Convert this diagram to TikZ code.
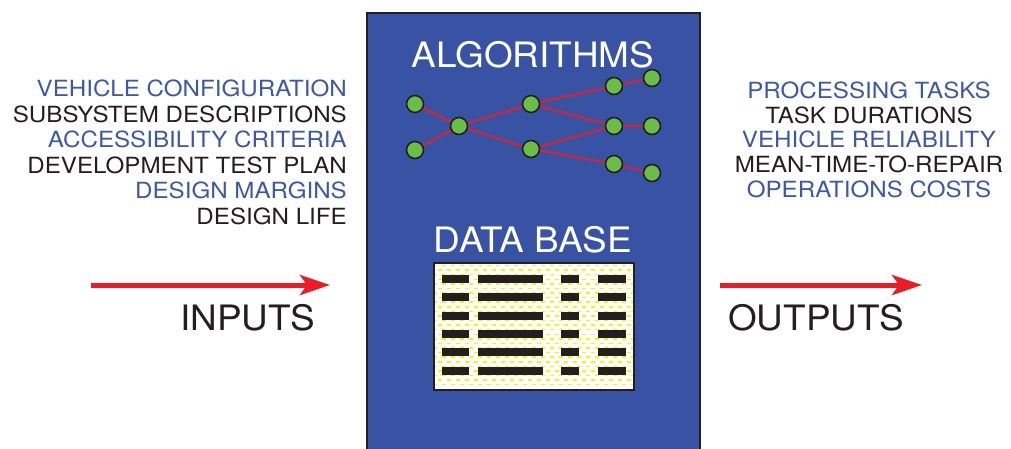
\documentclass[tikz,border=0pt]{standalone}
\usepackage{fontspec}
\setmainfont{TeX Gyre Heros}
\usetikzlibrary{arrows.meta}
\definecolor{panelblue}{HTML}{3953A4}
\definecolor{txtblue}{HTML}{3C58A8}
\definecolor{linkred}{HTML}{ED1C24}
\definecolor{nodegreen}{HTML}{6BBE45}
\definecolor{dashyellow}{HTML}{FFF200}
\definecolor{ink}{HTML}{231F20}
\newcommand{\widelist}[1]{\scalebox{1.083}[1]{#1}}
\newcommand{\widebig}[1]{\scalebox{1.055}[1]{#1}}
\tikzset{
  algnode/.style={circle, draw=ink, line width=1.6pt, fill=nodegreen, minimum size=17pt, inner sep=0pt},
  link/.style={draw=linkred, line width=1.8pt},
  bar/.style={fill=ink, draw=none},
  listtxt/.style={font=\fontsize{22.3}{26}\selectfont, inner sep=0pt},
  bigtxt/.style={font=\fontsize{35}{40}\selectfont, inner sep=0pt},
  flow/.style={draw=linkred, line width=5pt, -{Stealth[length=30pt, width=20pt, inset=7pt]}},
}
\begin{document}
\begin{tikzpicture}[x=1pt, y=-1pt]
\useasboundingbox (0,0) rectangle (1011,448);
% central panel
\fill[panelblue] (367,13) rectangle (700,460);
\draw[ink, line width=2pt] (367,460) -- (367,13) -- (700,13) -- (700,460);

% titles
\node[bigtxt, text=white, anchor=base] (alg) at (533,67) {\widebig{ALGORITHMS}};
\node[bigtxt, text=white, anchor=base] (db) at (533,252) {\widebig{DATA BASE}};

% links of the algorithm network
\foreach \n/\xx/\yy in {a1/415/104,a2/415/150,b1/459/126,c1/531/104,c2/531/149,d1/614/86,d2/614/126,d3/614/164,e1/652/78,e2/652/126,e3/652/173}
  \coordinate (\n) at (\xx,\yy);
\foreach \p/\q in {a1/b1,a2/b1,b1/c1,b1/c2,c1/d1,c1/d2,c2/d2,c2/d3,d1/e1,d2/e2,d3/e3}
  \draw[link] (\p) -- (\q);
% nodes drawn over the links
\foreach \n in {a1,a2,b1,c1,c2,d1,d2,d3,e1,e2,e3}
  \node[algnode] (\n-dot) at (\n) {};

% data table
\fill[white] (433,262) rectangle (633,389);
\begin{scope}
  \clip (433,262) rectangle (633,389);
  \foreach \i in {0,...,27} {
    \pgfmathsetmacro{\yy}{265.5+\i*4.583}
    \pgfmathsetmacro{\off}{mod(\i,2)*4.5}
    \draw[dashyellow, line width=1.5pt, dash pattern=on 4pt off 5pt, dash phase=\off pt] (433,\yy) -- (633,\yy);
  }
\end{scope}
\foreach \r in {0,...,5} {
  \pgfmathsetmacro{\yy}{279+\r*18.33}
  \fill[bar] (441.7,\yy-4) rectangle (469.3,\yy+4);
  \fill[bar] (478.3,\yy-4) rectangle (542.7,\yy+4);
  \fill[bar] (561.3,\yy-4) rectangle (579.3,\yy+4);
  \fill[bar] (598.3,\yy-4) rectangle (625.7,\yy+4);
}
\node[draw=ink, line width=1.6pt, minimum width=200pt, minimum height=127pt, anchor=north west, inner sep=0pt] (table) at (433,262) {};

% input list
\foreach \t/\c/\yy in {VEHICLE CONFIGURATION/txtblue/96,SUBSYSTEM DESCRIPTIONS/ink/122,ACCESSIBILITY CRITERIA/txtblue/147.5,DEVELOPMENT TEST PLAN/ink/173,DESIGN MARGINS/txtblue/198.5,DESIGN LIFE/ink/224}
  \node[listtxt, text=\c, anchor=base east] at (347,\yy) {\widelist{\t}};

% output list
\foreach \t/\c/\yy in {PROCESSING TASKS/txtblue/98.3,TASK DURATIONS/ink/123.3,VEHICLE RELIABILITY/txtblue/147.5,MEAN-TIME-TO-REPAIR/ink/172.3,OPERATIONS COSTS/txtblue/197.5}
  \node[listtxt, text=\c, anchor=base] at (869,\yy) {\widelist{\t}};

% flow arrows
\coordinate (inS) at (91,285);
\coordinate (inE) at (330,285);
\coordinate (outS) at (720,285);
\coordinate (outE) at (922,285);
\draw[flow] (inS) -- (inE);
\draw[flow] (outS) -- (outE);
\node[bigtxt, text=ink, anchor=base west] (inputs) at (180,330) {\widebig{INPUTS}};
\node[bigtxt, text=ink, anchor=base west] (outputs) at (728,330) {\widebig{OUTPUTS}};
\end{tikzpicture}
\end{document}
